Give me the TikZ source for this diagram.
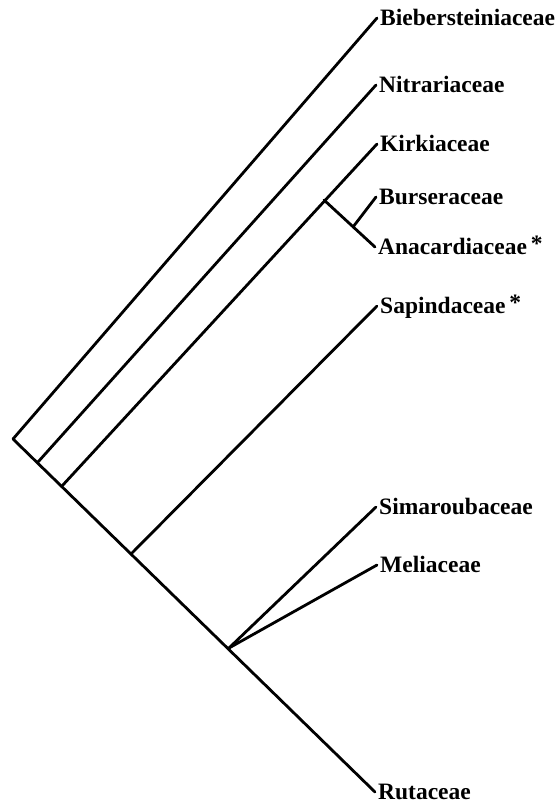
\documentclass[tikz,border=0pt]{standalone}
\usepackage{fontspec}
\setmainfont{Liberation Serif}
\begin{document}
\begin{tikzpicture}[x=1pt,y=-1pt,
  branch/.style={line width=2.8pt,line cap=round,line join=round},
  lab/.style={anchor=west,font=\fontsize{23.5}{26}\selectfont\bfseries,inner xsep=3pt,inner ysep=0pt,text height=15.6pt,text depth=0pt}]
\useasboundingbox (0,0) rectangle (559,806);
% internal nodes
\coordinate (root) at (13,439);
\coordinate (n1) at (38,462);
\coordinate (n2) at (62,486);
\coordinate (nK) at (324,200);
\coordinate (nBA) at (353,227);
\coordinate (n3) at (131,554);
\coordinate (n4) at (229,648);
% tips
\coordinate (tBie) at (377,18);
\coordinate (tNit) at (376,85);
\coordinate (tKir) at (377,144);
\coordinate (tBur) at (376,197);
\coordinate (tAna) at (375,247);
\coordinate (tSap) at (377,306);
\coordinate (tSim) at (376,507);
\coordinate (tMel) at (377,565);
\coordinate (tRut) at (375,792);
% labels
\node[lab] (lBie) at (tBie) {Biebersteiniaceae};
\node[lab] (lNit) at (tNit) {Nitrariaceae};
\node[lab] (lKir) at (tKir) {Kirkiaceae};
\node[lab] (lBur) at (tBur) {Burseraceae};
\node[lab] (lAna) at (tAna) {Anacardiaceae\,\raisebox{3pt}{*}};
\node[lab] (lSap) at (tSap) {Sapindaceae\,\raisebox{3pt}{*}};
\node[lab] (lSim) at (tSim) {Simaroubaceae};
\node[lab] (lMel) at (tMel) {Meliaceae};
\node[lab] (lRut) at (tRut) {Rutaceae};
% branches
\draw[branch] (tBie) -- (root) -- (tRut);
\draw[branch] (n1) -- (tNit);
\draw[branch] (n2) -- (tKir);
\draw[branch] (nK) -- (tAna);
\draw[branch] (nBA) -- (tBur);
\draw[branch] (n3) -- (tSap);
\draw[branch] (n4) -- (tSim);
\draw[branch] (n4) -- (tMel);
\end{tikzpicture}
\end{document}
